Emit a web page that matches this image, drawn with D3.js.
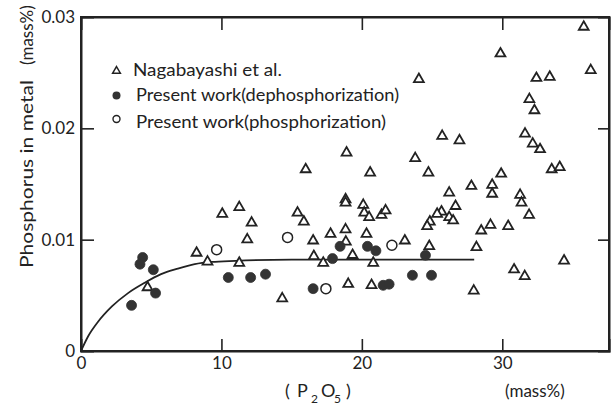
<!DOCTYPE html>
<html><head><meta charset="utf-8">
<script src="https://cdn.jsdelivr.net/npm/d3@7"></script>
<style>
html,body{margin:0;padding:0;background:#fff;}
svg text{font-family:Lato,"Open Sans",sans-serif;fill:#222;}
</style></head>
<body><svg id="c" width="611" height="406"></svg>
<script>
// Nagabayashi et al. (open triangles)
const nagaX = [4.74,8.23,9.01,10.06,11.27,12.15,11.84,11.27,14.33,15.42,15.87,16.53,16.58,17.25,17.77,16.0,18.91,18.84,18.84,18.84,18.86,19.34,19.03,20.1,20.17,20.52,20.33,20.59,20.81,20.69,21.4,21.69,23.06,23.8,24.06,24.74,24.84,24.65,24.8,25.72,25.67,25.36,26.22,26.67,26.22,26.5,26.95,27.8,27.97,28.16,28.5,29.16,29.28,29.28,29.87,29.92,30.42,30.84,31.6,31.27,31.37,31.91,31.62,32.17,32.69,31.93,32.29,32.43,33.38,33.52,34.09,34.4,35.8,36.3];
const nagaY = [0.0058,0.0089,0.0081,0.0124,0.0130,0.0116,0.0101,0.0080,0.0048,0.0125,0.0117,0.0100,0.0086,0.0080,0.0106,0.0164,0.0179,0.0137,0.0134,0.0110,0.0099,0.0087,0.0061,0.0132,0.0125,0.0121,0.0106,0.0161,0.0080,0.0060,0.0123,0.0127,0.0100,0.0174,0.0245,0.0161,0.0117,0.0113,0.0095,0.0194,0.0126,0.0124,0.0143,0.0131,0.0121,0.0118,0.0190,0.0149,0.0055,0.0094,0.0109,0.0114,0.0150,0.0142,0.0268,0.0160,0.0113,0.0074,0.0068,0.0141,0.0134,0.0123,0.0196,0.0187,0.0182,0.0227,0.0217,0.0246,0.0247,0.0164,0.0166,0.0082,0.0292,0.0253];
// Present work (dephosphorization) (filled circles)
const dephX = [3.6,4.39,4.2,5.15,5.31,10.49,12.08,13.14,16.53,17.91,18.45,20.4,21.0,21.52,21.94,23.6,24.96,24.53];
const dephY = [0.0041,0.0084,0.0078,0.0073,0.0052,0.0066,0.0066,0.0069,0.0056,0.0083,0.0094,0.0094,0.0090,0.0059,0.0060,0.0068,0.0068,0.0086];
// Present work (phosphorization) (open circles)
const phosX = [9.66,14.71,17.44,22.14];
const phosY = [0.0091,0.0102,0.0056,0.0095];
// Drawn curve, points
const curveX = [0,0.5,1.2,2.2,3.35,4.5,5.7,6.9,8.1,9.3,11,15,28.0];
const curveY = [0,0.0013,0.0026,0.0040,0.0052,0.0061,0.0069,0.0074,0.0078,0.0080,0.0081,0.0082,0.0082];
// ticks
const xTicks = [0,10,20,30];
const yTicks = [0,0.01,0.02,0.03];
const yTickLabels = ["0","0.01","0.02","0.03"];
const legendLabels = ["Nagabayashi et al.","Present work(dephosphorization)","Present work(phosphorization)"];

const svg = d3.select("#c");
const L=81, R=609, T=17, B=351;
const x = d3.scaleLinear().domain([0,37.6]).range([L,R]);
const y = d3.scaleLinear().domain([0,0.03]).range([B,T]);
const ink = "#222";

// axes (inward ticks on all four sides)
const gB = svg.append("g").attr("transform",`translate(0,${B})`)
  .call(d3.axisBottom(x).tickValues(xTicks).tickSize(-12).tickPadding(16).tickFormat(d3.format("d")));
const gT = svg.append("g").attr("transform",`translate(0,${T})`)
  .call(d3.axisTop(x).tickValues(xTicks.slice(1)).tickSize(-13).tickFormat(""));
const gL = svg.append("g").attr("transform",`translate(${L},0)`)
  .call(d3.axisLeft(y).tickValues(yTicks).tickSize(-13).tickPadding(18).tickFormat((d,i)=>yTickLabels[i]));
const gR = svg.append("g").attr("transform",`translate(${R},0)`)
  .call(d3.axisRight(y).tickValues(yTicks.slice(1,3)).tickSize(-11).tickFormat(""));
[gB,gT,gL,gR].forEach(g=>{
  g.select(".domain").attr("stroke",ink).attr("stroke-width",2);
  g.selectAll(".tick line").attr("stroke",ink).attr("stroke-width",1.6);
  g.selectAll(".tick text").attr("font-size",17).attr("fill",ink).style("font-family","Lato,sans-serif");
});
gB.selectAll(".tick").filter(d=>d===0).select("line").remove();
gL.selectAll(".tick").filter(d=>d===0||d===0.03).select("line").remove();
gB.selectAll(".tick text").attr("dy","0.35em").attr("y",12);
gL.selectAll(".tick text").attr("x",-6);
// frame
svg.append("rect").attr("x",L).attr("y",T).attr("width",R-L).attr("height",B-T)
  .attr("fill","none").attr("stroke",ink).attr("stroke-width",2);

// curve
const line = d3.line().x((d,i)=>x(curveX[i])).y((d,i)=>y(curveY[i])).curve(d3.curveMonotoneX);
svg.append("path").datum(curveX).attr("d",line).attr("fill","none").attr("stroke",ink).attr("stroke-width",1.8);

// markers
const tri = d3.symbol().type(d3.symbolTriangle).size(42);
svg.append("g").selectAll("path").data(nagaX).join("path")
  .attr("d",tri).attr("transform",(d,i)=>`translate(${x(d)},${y(nagaY[i])+1})`)
  .attr("fill","#fff").attr("stroke",ink).attr("stroke-width",1.8);
svg.append("g").selectAll("circle").data(dephX).join("circle")
  .attr("cx",d=>x(d)).attr("cy",(d,i)=>y(dephY[i])).attr("r",5)
  .attr("fill","#333").attr("stroke","#333").attr("stroke-width",0.8);
svg.append("g").selectAll("circle").data(phosX).join("circle")
  .attr("cx",d=>x(d)).attr("cy",(d,i)=>y(phosY[i])).attr("r",5)
  .attr("fill","#fff").attr("stroke",ink).attr("stroke-width",1.5);

// legend
const lg = svg.append("g");
lg.append("path").attr("d",d3.symbol().type(d3.symbolTriangle).size(26)).attr("transform","translate(116.5,71)")
  .attr("fill","#fff").attr("stroke",ink).attr("stroke-width",1.5);
lg.append("circle").attr("cx",116.5).attr("cy",95.5).attr("r",4).attr("fill","#333");
lg.append("circle").attr("cx",116.5).attr("cy",119).attr("r",3.5).attr("fill","#fff").attr("stroke",ink).attr("stroke-width",1.4);
const legX=[133,136,136], legBase=[75.5,100.5,128], legLen=[149,263,250];
legendLabels.forEach((t,i)=>{
  lg.append("text").attr("x",legX[i]).attr("y",legBase[i]).attr("font-size",17.5)
    .attr("textLength",legLen[i]).attr("lengthAdjust","spacingAndGlyphs").text(t);
});

// axis titles
svg.append("text").attr("transform","translate(33,268) rotate(-90)").attr("font-size",17.5)
  .attr("textLength",188).attr("lengthAdjust","spacingAndGlyphs").text("Phosphorus in metal");
svg.append("text").attr("transform","translate(33,65) rotate(-90)").attr("font-size",17)
  .text("(mass%)");
const xt = svg.append("text").attr("y",397).attr("font-size",18);
const parts = [["(",285,0,18],["P",297,0,18],["2",311,6,12],["O",321,0,18],["5",334,6,12],[")",346,0,18]];
parts.forEach(p=>xt.append("tspan").attr("x",p[1]).attr("y",397+p[2]).attr("font-size",p[3]).text(p[0]));
svg.append("text").attr("x",505).attr("y",397).attr("font-size",17)
  .text("(mass%)");
</script></body></html>
